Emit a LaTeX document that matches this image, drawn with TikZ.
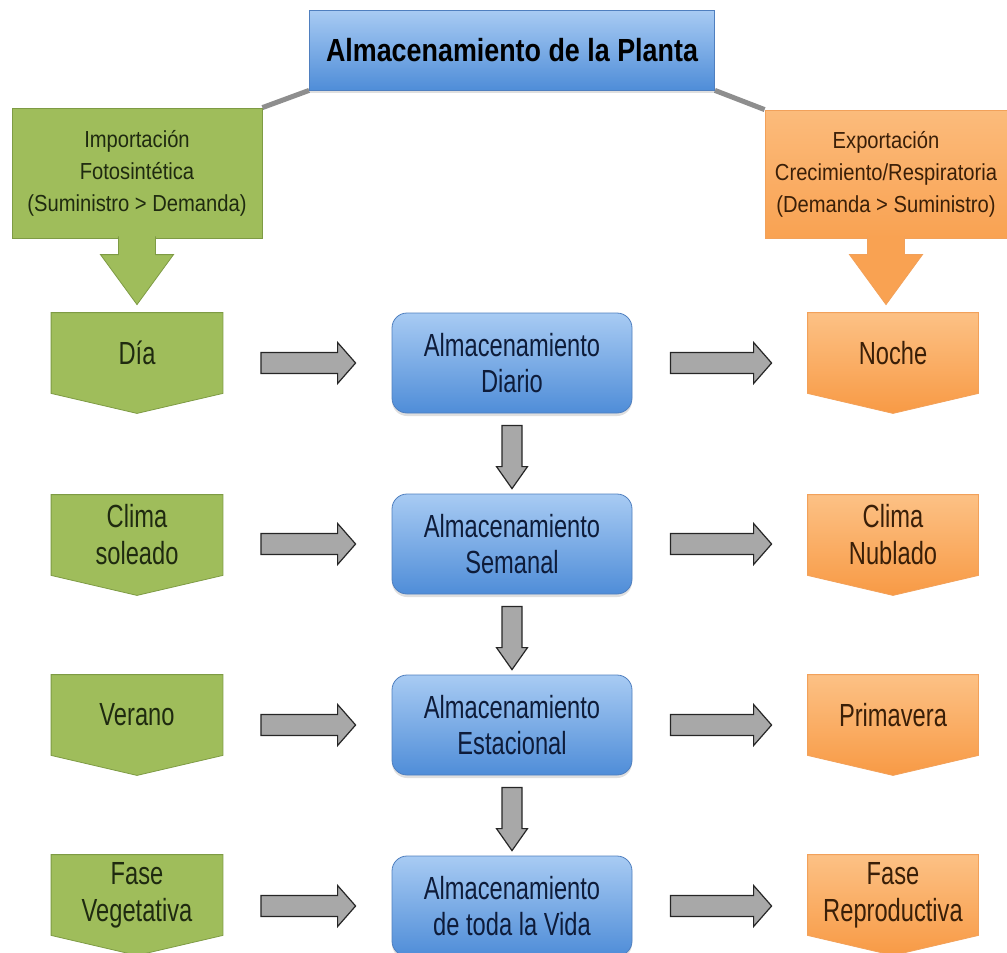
\documentclass[tikz,border=0pt]{standalone}
\usepackage{fontspec}
\setmainfont{Liberation Sans}
\newfontfamily\narrowfont{Liberation Sans}[FakeStretch=0.74]
\newfontfamily\boxfont{Liberation Sans}[FakeStretch=0.87]
\newfontfamily\titlefont{Liberation Sans}[FakeStretch=0.84]
\usetikzlibrary{calc,backgrounds,shadows}

\definecolor{leafgreen}{HTML}{9FBD5B}
\definecolor{leafedge}{HTML}{7E9B44}
\definecolor{leaftext}{HTML}{1F2A10}
\definecolor{sinktop}{HTML}{FCC185}
\definecolor{sinkbot}{HTML}{F89A45}
\definecolor{sinkedge}{HTML}{F2A15A}
\definecolor{sinktext}{HTML}{3A1F08}
\definecolor{storetop}{HTML}{A8CBF3}
\definecolor{storebot}{HTML}{4F8DD8}
\definecolor{storeedge}{HTML}{4F7FBF}
\definecolor{storetext}{HTML}{0E1C3A}
\definecolor{arrowgray}{HTML}{A8A8A8}
\definecolor{linkgray}{HTML}{8E8E8E}

% gray block arrows between nodes
\newcommand{\rightblock}[3]{%
  \draw[blockarrow] let \p1=($(#1.east |- #3.center)+(38,0)$), \p2=($(#2.west |- #3.center)+(-36,0)$) in
    (\x1,\y1+5.25pt) -- (\x2-9pt,\y1+5.25pt) -- (\x2-9pt,\y1+10.25pt) -- (\x2,\y1)
    -- (\x2-9pt,\y1-10.25pt) -- (\x2-9pt,\y1-5.25pt) -- (\x1,\y1-5.25pt) -- cycle;}
\newcommand{\downblock}[2]{%
  \draw[blockarrow] let \p1=($(#1.south)+(0,12)$), \p2=($(#2.north)+(0,-5)$) in
    (\x1-5pt,\y1) -- (\x1-5pt,\y2+11pt) -- (\x1-7.75pt,\y2+11pt) -- (\x1,\y2)
    -- (\x1+7.75pt,\y2+11pt) -- (\x1+5pt,\y2+11pt) -- (\x1+5pt,\y1) -- cycle;}
% wide arrow hanging under the top boxes
\newcommand{\feedblock}[3]{%
  \draw[#3] let \p1=(#1.south), \p2=($(#2.north)+(0,-8)$) in
    (\x1-9.25pt,\y1+1pt) -- (\x1-9.25pt,\y2+25pt) -- (\x1-18.25pt,\y2+25pt) -- (\x1,\y2)
    -- (\x1+18.25pt,\y2+25pt) -- (\x1+9.25pt,\y2+25pt) -- (\x1+9.25pt,\y1+1pt);}
\newcommand{\pentagon}[2]{%
  \draw[#2] (#1.north west) -- (#1.north east) -- (#1.south east)
    -- ($(#1.south)+(0,20)$) -- (#1.south west) -- cycle;}

\begin{document}
\begin{tikzpicture}[x=0.5pt,y=-0.5pt,node distance=90.5pt]
\tikzstyle{title} = [rectangle, draw=storeedge, top color=storetop, bottom color=storebot, minimum width=202.5pt, minimum height=40pt, text=black, font=\titlefont\bfseries\fontsize{16}{19}\selectfont, drop shadow={opacity=0.25,shadow xshift=0pt,shadow yshift=-1.5pt}]
\tikzstyle{store} = [rectangle, rounded corners=7.5pt, draw=storeedge, top color=storetop, bottom color=storebot, minimum width=120pt, minimum height=50pt, align=center, text=storetext, font=\narrowfont\fontsize{16}{18}\selectfont, drop shadow={opacity=0.25,shadow xshift=0pt,shadow yshift=-1.5pt}]
\tikzstyle{import} = [rectangle, draw=leafedge, fill=leafgreen, minimum width=125pt, minimum height=65pt, align=center, text=leaftext, font=\boxfont\fontsize{11.6}{16}\selectfont]
\tikzstyle{export} = [rectangle, draw=sinkedge, top color=sinktop!85!sinkbot, bottom color=sinkbot!80!sinktop, minimum width=121pt, minimum height=64pt, align=center, text=sinktext, font=\boxfont\fontsize{11.6}{16}\selectfont]
\tikzstyle{source} = [rectangle, minimum width=85.5pt, minimum height=40pt, align=center, text=leaftext, font=\narrowfont\fontsize{16}{18.5}\selectfont]
\tikzstyle{sink} = [rectangle, minimum width=85pt, minimum height=40pt, align=center, text=sinktext, font=\narrowfont\fontsize{16}{18.5}\selectfont]
\tikzstyle{blockarrow} = [draw=black!85, fill=arrowgray, line width=0.6pt, line join=miter]
\tikzstyle{link} = [draw=linkgray, line width=2.5pt]

\useasboundingbox (0,0) rectangle (1007,953);

\node (Planta) [title] at (512,50) {Almacenamiento de la Planta};
\node (Importacion) [import] at (137,173) {Importación\\Fotosintética\\(Suministro > Demanda)};
\node (Exportacion) [export] at (886,174) {Exportación\\Crecimiento/Respiratoria\\(Demanda > Suministro)};

\node (Diario) [store] at (512,363) {Almacenamiento\\Diario};
\node (Semanal) [store, below of=Diario] {Almacenamiento\\Semanal};
\node (Estacional) [store, below of=Semanal] {Almacenamiento\\Estacional};
\node (Vida) [store, below of=Estacional] {Almacenamiento\\de toda la Vida};

\node (Dia) [source] at (137,353) {Día};
\node (Soleado) [source] at (137,535) {Clima\\soleado};
\node (Verano) [source] at (137,715) {Verano};
\node (Vegetativa) [source] at (137,895) {Fase\\Vegetativa};

\node (Noche) [sink] at (893,353) {Noche};
\node (Nublado) [sink] at (893,535) {Clima\\Nublado};
\node (Primavera) [sink] at (893,715) {Primavera};
\node (Reproductiva) [sink] at (893,895) {Fase\\Reproductiva};

\begin{pgfonlayer}{background}
\foreach \n in {Dia,Soleado,Verano,Vegetativa}
  \pentagon{\n}{draw=leafedge, fill=leafgreen};
\foreach \n in {Noche,Nublado,Primavera,Reproductiva}
  \pentagon{\n}{draw=sinkedge, top color=sinktop, bottom color=sinkbot};
\draw [link] (Planta.south west) -- (Importacion.north east);
\draw [link] (Planta.south east) -- (Exportacion.north west);
\end{pgfonlayer}

\feedblock{Importacion}{Dia}{draw=leafedge, fill=leafgreen};
\feedblock{Exportacion}{Noche}{draw=sinkedge, fill=sinkbot!80!sinktop};

\rightblock{Dia}{Diario}{Diario}
\rightblock{Soleado}{Semanal}{Semanal}
\rightblock{Verano}{Estacional}{Estacional}
\rightblock{Vegetativa}{Vida}{Vida}
\rightblock{Diario}{Noche}{Diario}
\rightblock{Semanal}{Nublado}{Semanal}
\rightblock{Estacional}{Primavera}{Estacional}
\rightblock{Vida}{Reproductiva}{Vida}

\downblock{Diario}{Semanal}
\downblock{Semanal}{Estacional}
\downblock{Estacional}{Vida}

\end{tikzpicture}
\end{document}
